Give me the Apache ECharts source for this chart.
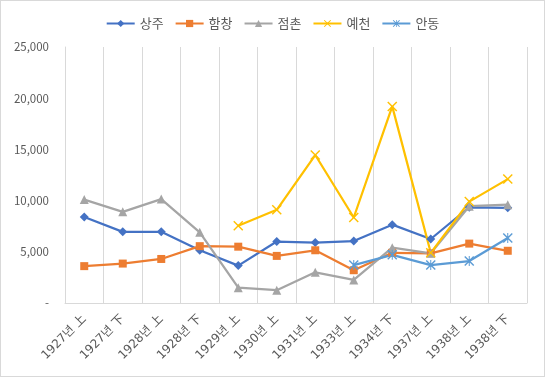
<!DOCTYPE html>
<html>
<head>
<meta charset="utf-8">
<script src="https://cdn.jsdelivr.net/npm/echarts@6/dist/echarts.min.js"></script>
<style>
  html, body { margin: 0; padding: 0; background: #fff; }
  #el { width: 545px; height: 377px; box-sizing: border-box; border: 1px solid #D9D9D9; }
</style>
</head>
<body>
<div id="el"></div>
<script>
let categories = ['1927년 上', '1927년 下', '1928년 上', '1928년 下', '1929년 上', '1930년 上',
    '1931년 上', '1933년 上', '1934년 下', '1937년 上', '1938년 上', '1938년 下']
let sangju = [8400, 6950, 6950, 5150, 3650, 6000, 5900, 6050, 7650, 6250, 9350, 9300]
let hamchang = [3600, 3850, 4300, 5550, 5500, 4600, 5150, 3200, 4900, 4850, 5800, 5100]
let jeomchon = [10100, 8900, 10150, 6900, 1500, 1250, 3000, 2250, 5400, 4850, 9450, 9600]
let yecheon = [null, null, null, null, 7550, 9100, 14450, 8350, 19200, 4900, 9900, 12100]
let andong = [null, null, null, null, null, null, null, 3700, 4700, 3700, 4100, 6350]
let yTicks = [0, 5000, 10000, 15000, 20000, 25000]

// 엑셀 기본 마커 모양
let xMark = 'path://M0,1L1,0L5,4L9,0L10,1L6,5L10,9L9,10L5,6L1,10L0,9L4,5Z'
let starMark = 'path://M0,1L1,0L5,4L9,0L10,1L6,5L10,9L9,10L5,6L1,10L0,9L4,5Z M4.5,0L5.5,0L5.5,10L4.5,10Z'

function makeSeries(name, data, color, symbol, size) {
    return {
        name: name,
        type: 'line',
        data: data,
        symbol: symbol,
        symbolSize: size,
        showAllSymbol: true,
        connectNulls: false,
        lineStyle: {color: color, width: 2.25},
        itemStyle: {color: color},
        emphasis: {disabled: true}
    }
}

let myChart = echarts.init(document.getElementById('el'))
myChart.setOption({
    animation: false,
    textStyle: {fontFamily: '"Noto Sans CJK KR", "Noto Sans", sans-serif'},
    legend: {
        top: 11,
        left: 'center',
        itemWidth: 28,
        itemHeight: 9,
        itemGap: 11,
        textStyle: {color: '#595959', fontSize: 13}
    },
    grid: {left: 64, right: 17, top: 46, bottom: 73},
    xAxis: {
        type: 'category',
        data: categories,
        boundaryGap: true,
        axisLine: {lineStyle: {color: '#D9D9D9'}},
        axisTick: {show: false},
        splitLine: {show: true, lineStyle: {color: '#D9D9D9'}},
        axisLabel: {
            rotate: 45, color: '#595959', fontSize: 12, interval: 0, margin: 14,
            fontFamily: '"DejaVu Sans", "Noto Sans CJK KR", sans-serif'
        }
    },
    yAxis: {
        type: 'value',
        min: yTicks[0],
        max: yTicks[yTicks.length - 1],
        interval: 5000,
        axisLine: {show: true, lineStyle: {color: '#D9D9D9'}},
        axisTick: {show: false},
        splitLine: {show: false},
        axisLabel: {
            color: '#595959',
            fontSize: 11.5,
            margin: 16,
            formatter: v => v === 0 ? '-' : v.toLocaleString('en-US')
        }
    },
    series: [
        makeSeries('상주', sangju, '#4472C4', 'diamond', 9),
        makeSeries('함창', hamchang, '#ED7D31', 'rect', 8),
        makeSeries('점촌', jeomchon, '#A5A5A5', 'triangle', 9),
        makeSeries('예천', yecheon, '#FFC000', xMark, 10),
        makeSeries('안동', andong, '#5B9BD5', starMark, 10)
    ]
})
</script>
</body>
</html>
